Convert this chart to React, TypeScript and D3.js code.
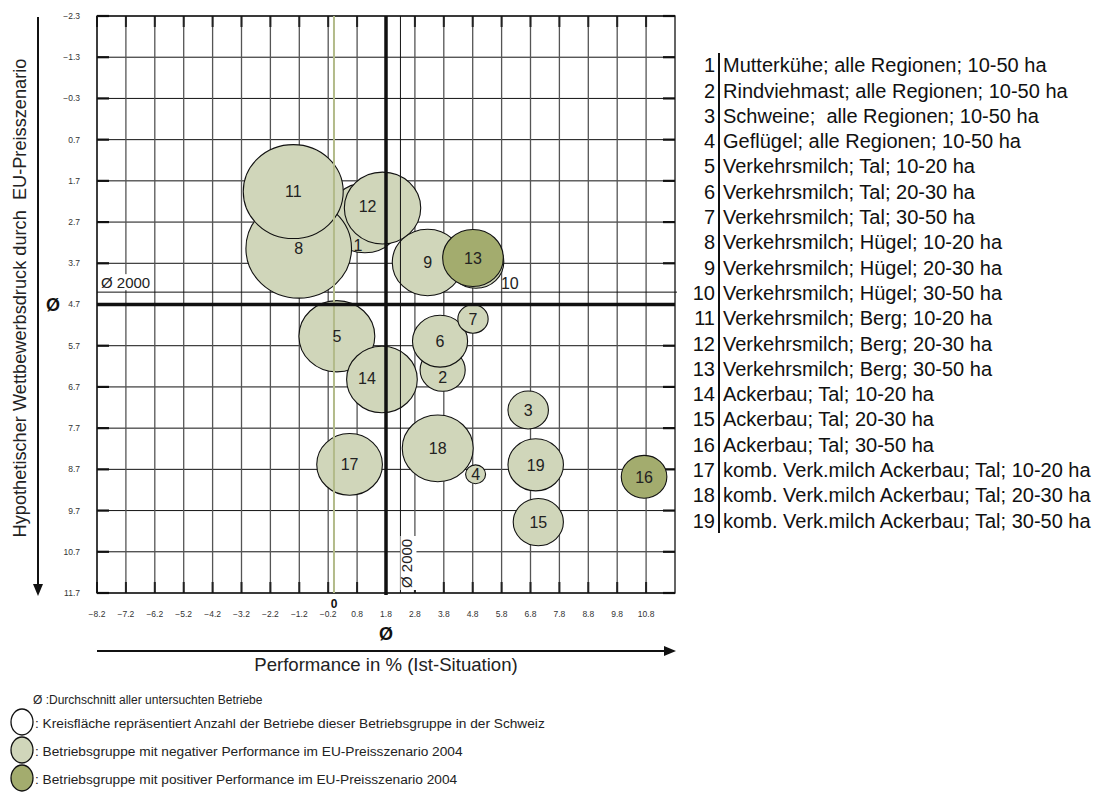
import React from "react";
import * as d3 from "d3";

// ---------- data ----------
const groupIds = [1, 2, 3, 4, 5, 6, 7, 8, 9, 10, 11, 12, 13, 14, 15, 16, 17, 18, 19];
const groupNames = [
  "Mutterkühe; alle Regionen; 10-50 ha",
  "Rindviehmast; alle Regionen; 10-50 ha",
  "Schweine;  alle Regionen; 10-50 ha",
  "Geflügel; alle Regionen; 10-50 ha",
  "Verkehrsmilch; Tal; 10-20 ha",
  "Verkehrsmilch; Tal; 20-30 ha",
  "Verkehrsmilch; Tal; 30-50 ha",
  "Verkehrsmilch; Hügel; 10-20 ha",
  "Verkehrsmilch; Hügel; 20-30 ha",
  "Verkehrsmilch; Hügel; 30-50 ha",
  "Verkehrsmilch; Berg; 10-20 ha",
  "Verkehrsmilch; Berg; 20-30 ha",
  "Verkehrsmilch; Berg; 30-50 ha",
  "Ackerbau; Tal; 10-20 ha",
  "Ackerbau; Tal; 20-30 ha",
  "Ackerbau; Tal; 30-50 ha",
  "komb. Verk.milch Ackerbau; Tal; 10-20 ha",
  "komb. Verk.milch Ackerbau; Tal; 20-30 ha",
  "komb. Verk.milch Ackerbau; Tal; 30-50 ha",
];
const performance = [1.07, 3.76, 6.72, 4.9, 0.1, 3.67, 4.81, -1.22, 3.24, 4.91, -1.41, 1.68, 4.81, 1.66, 7.07, 10.73, 0.54, 3.59, 6.98];
const pressure = [2.6, 6.29, 7.26, 8.82, 5.47, 5.59, 5.05, 3.34, 3.68, 3.67, 1.96, 2.36, 3.57, 6.52, 9.98, 8.88, 8.58, 8.19, 8.59];
const farmCount = [137, 51, 41, 10, 144, 76, 23, 279, 125, 78, 250, 146, 92, 125, 63, 52, 108, 126, 77];
const positiveGroups = [13, 16];
const drawOrder = [10, 1, 8, 11, 12, 9, 13, 2, 6, 7, 5, 14, 17, 18, 4, 3, 19, 15, 16];

const xTickValues = [-8.2, -7.2, -6.2, -5.2, -4.2, -3.2, -2.2, -1.2, -0.2, 0.8, 1.8, 2.8, 3.8, 4.8, 5.8, 6.8, 7.8, 8.8, 9.8, 10.8];
const yTickValues = [-2.3, -1.3, -0.3, 0.7, 1.7, 2.7, 3.7, 4.7, 5.7, 6.7, 7.7, 8.7, 9.7, 10.7, 11.7];
const xDomain = [-8.2, 11.8];
const yDomain = [-2.3, 11.7];
const avgPerformance = 1.8;
const avgPressure = 4.7;
const avg2000Performance = 2.3;
const avg2000Pressure = 4.4;
const zeroPerformance = 0;

// label nudges in pixels (placement only)
const labelNudge: Record<number, [number, number]> = {
  1: [-7, 27],
  2: [0, 7],
  10: [34, 21],
  12: [-15, -2],
  14: [-15, -1],
};

const FONT = "'Liberation Sans', Arial, Helvetica, sans-serif";
const LIGHT = "#d0d6ba";
const DARK = "#a3ac6e";

export default function App() {
  const L = 97, R = 675, T = 16, B = 593;
  const x = d3.scaleLinear().domain(xDomain).range([L, R]);
  const y = d3.scaleLinear().domain(yDomain).range([T, B]);
  const r = d3.scaleSqrt().domain([0, d3.max(farmCount) as number]).range([0, 52.8]);
  const aspect = 0.94;

  const idx = (id: number) => groupIds.indexOf(id);

  return (
    <svg
      width={1107}
      height={798}
      style={{ position: "absolute", left: 0, top: 0, background: "#fff", fontFamily: FONT }}
    >
      <rect x={0} y={0} width={1107} height={798} fill="#fff" />

      {/* grid: horizontal */}
      {yTickValues.map((v) => (
        <line key={"hy" + v} x1={L} x2={R} y1={y(v)} y2={y(v)} stroke="#111" strokeWidth={1} />
      ))}
      {/* grid: vertical */}
      {xTickValues.map((v) => (
        <line key={"vx" + v} x1={x(v)} x2={x(v)} y1={T} y2={B} stroke="#555" strokeWidth={1.3} />
      ))}
      {/* inner ticks */}
      {yTickValues.map((v) => (
        <g key={"ty" + v}>
          <line x1={L} x2={L + 12} y1={y(v)} y2={y(v)} stroke="#111" strokeWidth={2.2} />
          <line x1={R - 12} x2={R} y1={y(v)} y2={y(v)} stroke="#111" strokeWidth={2.2} />
        </g>
      ))}
      {xTickValues.map((v) => (
        <g key={"tx" + v}>
          <line x1={x(v)} x2={x(v)} y1={T} y2={T + 11} stroke="#222" strokeWidth={2} />
          <line x1={x(v)} x2={x(v)} y1={B - 11} y2={B} stroke="#222" strokeWidth={2} />
        </g>
      ))}
      <rect x={L} y={T} width={R - L} height={B - T} fill="none" stroke="#111" strokeWidth={1.3} />

      {/* Ø 2000 horizontal */}
      <line x1={L} x2={R + 2} y1={y(avg2000Pressure)} y2={y(avg2000Pressure)} stroke="#111" strokeWidth={1} />

      {/* bubbles */}
      {drawOrder.map((id) => {
        const i = idx(id);
        const rx = r(farmCount[i]);
        return (
          <ellipse
            key={"b" + id}
            cx={x(performance[i])}
            cy={y(pressure[i])}
            rx={rx}
            ry={rx * aspect}
            fill={positiveGroups.includes(id) ? DARK : LIGHT}
            stroke="#111"
            strokeWidth={1.1}
          />
        );
      })}

      {/* average lines on top */}
      <line x1={x(zeroPerformance)} x2={x(zeroPerformance)} y1={T} y2={B} stroke="#b3bb8a" strokeWidth={2} />
      <line x1={x(avg2000Performance)} x2={x(avg2000Performance)} y1={T} y2={B} stroke="#111" strokeWidth={1} />
      <line x1={x(avgPerformance)} x2={x(avgPerformance)} y1={T} y2={B + 2} stroke="#111" strokeWidth={3.5} />
      <line x1={L} x2={R} y1={y(avgPressure)} y2={y(avgPressure)} stroke="#111" strokeWidth={3.5} />

      {/* bubble labels */}
      {drawOrder.map((id) => {
        const i = idx(id);
        const n = labelNudge[id] || [0, 0];
        return (
          <text
            key={"l" + id}
            x={x(performance[i]) + n[0]}
            y={y(pressure[i]) + n[1]}
            dy="0.36em"
            textAnchor="middle"
            fontSize={16}
            fill="#222"
          >
            {id}
          </text>
        );
      })}

      {/* Ø 2000 labels */}
      <rect x={L + 3} y={y(avg2000Pressure) - 18} width={54} height={16} fill="#fff" />
      <text x={L + 4} y={y(avg2000Pressure) - 4} fontSize={15} fill="#222">Ø 2000</text>
      <g transform={`translate(${x(avg2000Performance) + 12},${B - 3}) rotate(-90)`}>
        <rect x={0} y={-12} width={54} height={16} fill="#fff" />
        <text x={2} y={0} fontSize={15} fill="#222">Ø 2000</text>
      </g>

      {/* tick labels */}
      {yTickValues.map((v) => (
        <text key={"yl" + v} x={80} y={y(v)} dy="0.35em" textAnchor="end" fontSize={8.5} fill="#333">
          {d3.format(".1f")(v)}
        </text>
      ))}
      {xTickValues.map((v) => (
        <text key={"xl" + v} x={x(v)} y={614} dy="0.35em" textAnchor="middle" fontSize={8.5} fill="#333">
          {d3.format(".1f")(v)}
        </text>
      ))}
      <text x={x(zeroPerformance)} y={604} dy="0.35em" textAnchor="middle" fontSize={12} fontWeight="bold" fill="#111">0</text>
      <text x={x(avgPerformance)} y={634} dy="0.35em" textAnchor="middle" fontSize={18} fontWeight="bold" fill="#111">Ø</text>
      <text x={53} y={y(avgPressure)} dy="0.35em" textAnchor="middle" fontSize={18} fontWeight="bold" fill="#111">Ø</text>

      {/* axis arrows */}
      <line x1={38} x2={38} y1={T + 1} y2={B - 8} stroke="#111" strokeWidth={2} />
      <path d={`M33,${B - 9} L43,${B - 9} L38,${B + 3} Z`} fill="#111" />
      <line x1={L} x2={R - 10} y1={651} y2={651} stroke="#111" strokeWidth={2} />
      <path d={`M${R - 11},646 L${R - 11},656 L${R + 1},651 Z`} fill="#111" />

      {/* axis titles */}
      <text
        transform={`translate(20,${298}) rotate(-90)`}
        textAnchor="middle"
        dy="0.35em"
        fontSize={18.2}
        fill="#222"
        style={{ whiteSpace: "pre" }}
      >
        {"Hypothetischer Wettbewerbsdruck durch  EU-Preisszenario"}
      </text>
      <text x={386} y={664} dy="0.35em" textAnchor="middle" fontSize={18.6} fill="#222">
        Performance in % (Ist-Situation)
      </text>

      {/* right legend */}
      <line x1={719} x2={719} y1={53} y2={533} stroke="#111" strokeWidth={2} />
      {groupIds.map((id, i) => (
        <g key={"lg" + id}>
          <text x={715} y={65 + i * 25.3} dy="0.36em" textAnchor="end" fontSize={20} fill="#111">{id}</text>
          <text x={723} y={65 + i * 25.3} dy="0.36em" fontSize={20} fill="#111" style={{ whiteSpace: "pre" }}>
            {groupNames[i]}
          </text>
        </g>
      ))}

      {/* bottom legend */}
      <text x={33} y={700} dy="0.35em" fontSize={12} fill="#222">Ø :Durchschnitt aller untersuchten Betriebe</text>
      <ellipse cx={22} cy={722} rx={11} ry={13} fill="#fff" stroke="#111" strokeWidth={1.3} />
      <text x={35} y={723} dy="0.35em" fontSize={13.7} fill="#222">: Kreisfläche repräsentiert Anzahl der Betriebe dieser Betriebsgruppe in der Schweiz</text>
      <ellipse cx={22} cy={750} rx={11} ry={13} fill={LIGHT} stroke="#111" strokeWidth={1.3} />
      <text x={35} y={751} dy="0.35em" fontSize={13.7} fill="#222">: Betriebsgruppe mit negativer Performance im EU-Preisszenario 2004</text>
      <ellipse cx={22} cy={778} rx={11} ry={13} fill={DARK} stroke="#111" strokeWidth={1.3} />
      <text x={35} y={779} dy="0.35em" fontSize={13.7} fill="#222">: Betriebsgruppe mit positiver Performance im EU-Preisszenario 2004</text>
    </svg>
  );
}
